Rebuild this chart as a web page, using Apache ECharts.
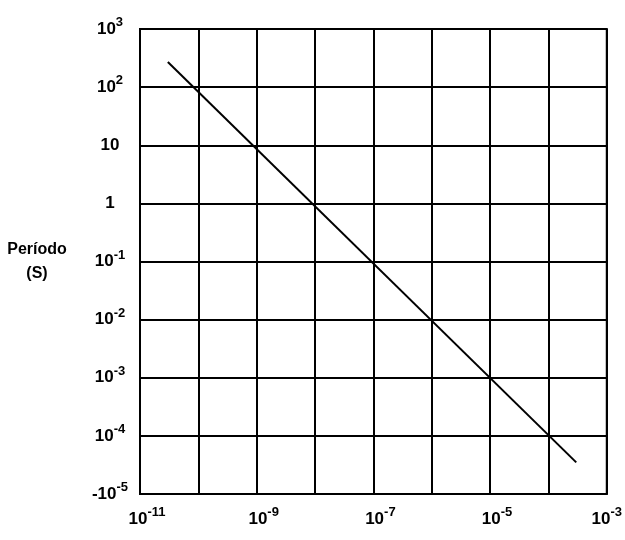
<!DOCTYPE html>
<html>
<head>
<meta charset="utf-8">
<script src="https://cdn.jsdelivr.net/npm/echarts@6/dist/echarts.min.js"></script>
<style>html,body{margin:0;padding:0;background:#fff;}#c{width:625px;height:540px;}</style>
</head>
<body>
<div id="c"></div>
<script>
// Data
var lineX = [3e-11, 3e-4];
var lineY = [270, 3.5e-5];
// Tick labels by decade exponent
var xTickLabels = {'-11': ['10', '-11'], '-9': ['10', '-9'], '-7': ['10', '-7'], '-5': ['10', '-5'], '-3': ['10', '-3']};
var yTickLabels = {
  '3': ['10', '3'], '2': ['10', '2'], '1': ['10', ''], '0': ['1', ''],
  '-1': ['10', '-1'], '-2': ['10', '-2'], '-3': ['10', '-3'], '-4': ['10', '-4'], '-5': ['-10', '-5']
};
var yName = 'Período\n(S)';

function fmt(table, spacer) {
  return function (v) {
    var e = Math.round(Math.log10(v));
    var t = table[String(e)];
    if (!t) return '';
    var pre = (spacer && e !== -3) ? '{p|}' : '';
    return pre + '{b|' + t[0] + '}' + (t[1] ? '{s|' + t[1] + '}' : '');
  };
}
var rich = {
  p: {width: 14},
  b: {fontSize: 17, fontWeight: 'bold', color: '#000', fontFamily: 'Liberation Sans'},
  s: {fontSize: 13, fontWeight: 'bold', color: '#000', fontFamily: 'Liberation Sans', padding: [0, 0, 13, 0]}
};

var chart = echarts.init(document.getElementById('c'));
chart.setOption({
  animation: false,
  backgroundColor: '#fff',
  grid: {left: 140, right: 18, top: 29, bottom: 46, show: true, borderColor: '#000', borderWidth: 2, containLabel: false},
  xAxis: {
    type: 'log', logBase: 10, min: 1e-11, max: 1e-3, interval: 1,
    axisLine: {show: true, lineStyle: {color: '#000', width: 2}},
    axisTick: {show: false},
    splitLine: {show: true, lineStyle: {color: '#000', width: 2}},
    minorSplitLine: {show: false},
    axisLabel: {margin: 12, formatter: fmt(xTickLabels, true), rich: rich, showMinLabel: true, showMaxLabel: true, hideOverlap: false}
  },
  yAxis: {
    type: 'log', logBase: 10, min: 1e-5, max: 1e3, interval: 1,
    name: yName, nameLocation: 'middle', nameRotate: 0, nameGap: 103,
    nameTextStyle: {fontSize: 16, fontWeight: 'bold', color: '#000', fontFamily: 'Liberation Sans', align: 'center', lineHeight: 24},
    axisLine: {show: true, lineStyle: {color: '#000', width: 2}},
    axisTick: {show: false},
    splitLine: {show: true, lineStyle: {color: '#000', width: 2}},
    axisLabel: {margin: 30, align: 'center', formatter: fmt(yTickLabels, false), rich: rich, showMinLabel: true, showMaxLabel: true}
  },
  series: [{
    type: 'line',
    data: lineX.map(function (x, i) { return [x, lineY[i]]; }),
    symbol: 'none',
    lineStyle: {color: '#000', width: 2}
  }]
});
</script>
</body>
</html>
